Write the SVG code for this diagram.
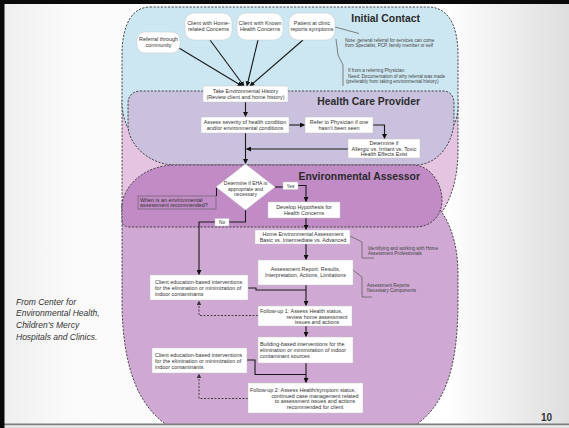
<svg xmlns="http://www.w3.org/2000/svg" width="569" height="428" viewBox="0 0 569 428">
<defs>
<linearGradient id="bg" x1="0" y1="0" x2="1" y2="0">
<stop offset="0" stop-color="#eeeeee"/>
<stop offset="0.12" stop-color="#fafafa"/>
<stop offset="0.78" stop-color="#ffffff"/>
<stop offset="1" stop-color="#dedede"/>
</linearGradient>
<marker id="ah" viewBox="0 0 10 10" refX="9" refY="5" markerWidth="5" markerHeight="5" markerUnits="userSpaceOnUse" orient="auto"><path d="M0,0 L10,5 L0,10 z" fill="#111"/></marker>
<marker id="ahd" viewBox="0 0 10 10" refX="9" refY="5" markerWidth="4.5" markerHeight="4.5" markerUnits="userSpaceOnUse" orient="auto"><path d="M0,0 L10,5 L0,10 z" fill="#333"/></marker>
<style>
.zone{stroke:#3a3a3a;stroke-width:0.9;stroke-dasharray:2.2 1.4}
.box{fill:#ffffff;stroke:#c4c4c4;stroke-width:0.5}
.t{font-family:"Liberation Sans",Arial,sans-serif;font-size:5.4px;fill:#333}
.m{text-anchor:middle}
.n{font-family:"Liberation Sans",Arial,sans-serif;font-size:4.6px;fill:#444}
.title{font-family:"Liberation Sans",Arial,sans-serif;font-weight:bold;font-size:10.4px;fill:#2b2b2b;text-anchor:end}
.c{fill:none;stroke:#1a1a1a;stroke-width:1.1}
.a{marker-end:url(#ah)}
.d{fill:none;stroke:#333;stroke-width:0.9;stroke-dasharray:2 1.5;marker-end:url(#ahd)}
.br{fill:none;stroke:#555;stroke-width:0.7}
</style>
</defs>

<rect x="0" y="0" width="569" height="428" fill="url(#bg)"/>

<g id="regions">
<path id="zone-pink" class="zone" fill="#e4c4e0" d="M122,100 H458 V150 C458,180 450,200 442,212 L122,212 Z"/>
<path id="zone-assessor-outer" class="zone" fill="#cfa8d3" d="M122,205 H436 C448,218 458,240 458,275 V300 C458,370 445,410 405,432 H180 C140,415 122,370 122,300 Z"/>
<path id="zone-initial-contact" class="zone" fill="#cce7f1" d="M150,7 H428 C448,7 458,25 458,55 V105 C458,115 456,122 452,128 H128 C124,120 122,112 122,100 V55 C122,25 132,7 150,7 Z"/>
<path id="zone-health-care" class="zone" fill="#c9c1dd" d="M140,91 H443 C450,91 454,96 454,103 V120 C454,140 440,165 415,165 H175 C150,165 128,145 128,125 V103 C128,96 133,91 140,91 Z"/>
<path id="zone-env-assessor" class="zone" fill="#c18cc6" d="M122,205 C124,185 145,165 175,165 H415 C432,167 442,185 442,200 C442,215 432,227 415,227 H130 Q122,227 122,220 Z"/>
<text class="title" x="420" y="22">Initial Contact</text>
<text class="title" x="420" y="104.5">Health Care Provider</text>
<text class="title" x="420" y="179.5">Environmental Assessor</text>
</g>

<g id="connectors">
<path class="c a" d="M179,48 L242,86"/>
<path class="c a" d="M210,40 L244,86"/>
<path class="c a" d="M258,40 L247,86"/>
<path class="c a" d="M303,40 L250,86"/>
<path class="c a" d="M245.5,102 V116.5"/>
<path class="c a" d="M287,125 H304.5"/>
<path class="c a" d="M373,125 H384.5 V138.5"/>
<path class="c a" d="M348,149 H246.5"/>
<path class="c a" d="M245.5,133 V163.5"/>
<path class="c" d="M275,187 H283"/>
<path class="c a" d="M298,185.5 H306 V201.5"/>
<path class="c" d="M245.5,210 V222 H229"/>
<path class="c a" d="M215,222 H199 V274.5"/>
<path class="c" d="M216.5,187 V196"/>
<path class="c a" d="M306,218 V229.5"/>
<path class="c a" d="M306,244 V259.5"/>
<path class="c a" d="M306,285 V305.5"/>
<path class="c" d="M248,288 H256 V290 H306"/>
<path class="c a" d="M306,326 V336.5"/>
<path class="c a" d="M306,363 V382.5"/>
<path class="c" d="M247,360 H255 V374.5 H306"/>
<path class="d" d="M258,315.5 H199 V301"/>
<path class="d" d="M248,398.5 H199 V374"/>
<path class="br" d="M335,27 L359,33.5"/>
<path class="br" d="M336,39 L338,55 L343,65 V86"/>
<path class="br" d="M350,236 L362,242 V258 H374"/>
<path class="br" d="M353,270 L362,277 V297 H372"/>
</g>

<g id="n-referral"><rect class="box" x="137" y="32" width="43" height="21" rx="8"/><text class="t m" x="158.5" y="41.4">Referral through</text><text class="t m" x="158.5" y="47.4">community</text></g>
<g id="n-home"><rect class="box" x="185" y="13" width="47" height="27" rx="9"/><text class="t m" x="208.5" y="25.4">Client with Home-</text><text class="t m" x="208.5" y="31.4">related Concerns</text></g>
<g id="n-known"><rect class="box" x="237" y="13" width="46" height="27" rx="9"/><text class="t m" x="260" y="25.4">Client with Known</text><text class="t m" x="260" y="31.4">Health Concerns</text></g>
<g id="n-patient"><rect class="box" x="289" y="13" width="46" height="27" rx="9"/><text class="t m" x="312" y="25.4">Patient at clinic</text><text class="t m" x="312" y="31.4">reports symptoms</text></g>

<g id="note-referral"><text class="n" x="345" y="41.5">Note: general referral for services can come</text><text class="n" x="345" y="47">from Specialist, PCP, family member or self</text></g>
<g id="note-physician"><text class="n" x="348" y="72">If from a referring Physician:</text><text class="n" x="348" y="77.5">  Need: Documentation of why referral was made</text><text class="n" x="346" y="83">(preferably from taking environmental history)</text></g>

<g id="n-history"><rect class="box" x="203" y="86" width="85" height="16"/><text class="t m" x="245.5" y="93.4">Take Environmental History</text><text class="t m" x="245.5" y="99.4">(Review client and home history)</text></g>
<g id="n-assess"><rect class="box" x="201" y="117" width="88" height="16"/><text class="t m" x="245" y="124.4">Assess severity of health condition</text><text class="t m" x="245" y="130.4">and/or environmental conditions</text></g>
<g id="n-refer"><rect class="box" x="305" y="117" width="68" height="16"/><text class="t m" x="339" y="124.4">Refer to Physician if one</text><text class="t m" x="339" y="130.4">hasn't been seen</text></g>
<g id="n-determine"><rect class="box" x="348" y="139" width="72" height="19"/><text class="t m" x="384" y="145.4">Determine if</text><text class="t m" x="384" y="150.9">Allergic vs. Irritant vs. Toxic</text><text class="t m" x="384" y="156.4">Health Effects Exist</text></g>

<g id="n-eha"><path d="M245.5,164 L275,187 L245.5,210 L216,187 Z" fill="#fff" stroke="#c4c4c4" stroke-width="0.5"/><text class="t m" x="245.5" y="185" style="font-size:5px">Determine if EHA is</text><text class="t m" x="245.5" y="190.5" style="font-size:5px">appropriate and</text><text class="t m" x="245.5" y="196" style="font-size:5px">necessary</text></g>
<g id="n-yes"><rect class="box" x="283" y="182" width="15" height="7.5"/><text class="t m" x="290.5" y="187.6" style="font-size:4.8px">Yes</text></g>
<g id="n-no"><rect class="box" x="215" y="218.5" width="14" height="7.5"/><text class="t m" x="222" y="224.1" style="font-size:4.8px">No</text></g>
<g id="n-when"><rect x="138" y="196" width="78" height="13" fill="none" stroke="#4a4a4a" stroke-width="0.5"/><text class="t" x="140" y="201.8">When is an environmental</text><text class="t" x="140" y="207.3">assessment recommended?</text></g>

<g id="n-hypothesis"><rect class="box" x="268" y="202" width="72" height="16"/><text class="t m" x="304" y="209">Develop Hypothesis for</text><text class="t m" x="304" y="215">Health Concerns</text></g>
<g id="n-home-assess"><rect class="box" x="255" y="230" width="95" height="14"/><text class="t m" x="303" y="236.4">Home Environmental Assessment</text><text class="t m" x="303" y="241.9">Basic vs. Intermediate vs. Advanced</text></g>
<g id="note-professionals"><text class="n" x="368" y="249.5">Identifying and working with Home</text><text class="n" x="368" y="255">Assessment Professionals</text></g>
<g id="n-report"><rect class="box" x="258" y="260" width="95" height="25"/><text class="t m" x="305.5" y="271.4">Assessment Report: Results,</text><text class="t m" x="305.5" y="277.4">Interpretation, Actions, Limitations</text></g>
<g id="note-components"><text class="n" x="367" y="286.5">Assessment Reports</text><text class="n" x="367" y="292">Necessary Components</text></g>
<g id="n-edu1"><rect class="box" x="150" y="275" width="98" height="25"/><text class="t" x="155" y="284.4">Client education-based interventions</text><text class="t" x="155" y="290.4">for the elimination or minimization of</text><text class="t" x="155" y="296.4">indoor contaminants</text></g>
<g id="n-follow1"><rect class="box" x="258" y="306" width="94" height="20"/><text class="t" x="260" y="313.4">Follow-up 1: Assess Health status,</text><text class="t m" x="317" y="318.9">review home assessment</text><text class="t m" x="317" y="324.4">issues and actions</text></g>
<g id="n-building"><rect class="box" x="258" y="337" width="95" height="26"/><text class="t" x="260" y="345.9">Building-based interventions for the</text><text class="t" x="260" y="351.9">elimination or minimization of indoor</text><text class="t" x="260" y="357.9">contaminant sources</text></g>
<g id="n-edu2"><rect class="box" x="152" y="348" width="95" height="25"/><text class="t" x="155" y="357.4">Client education-based interventions</text><text class="t" x="155" y="363.4">for the elimination or minimization of</text><text class="t" x="155" y="369.4">indoor contaminants</text></g>
<g id="n-follow2"><rect class="box" x="248" y="383" width="115" height="30"/><text class="t" x="250" y="391.9">Follow-up 2: Assess Health/symptom status,</text><text class="t m" x="315" y="397.6">continued case management related</text><text class="t m" x="315" y="403.3">to assessment issues and actions</text><text class="t m" x="315" y="409">recommended for client</text></g>

<g id="citation" font-family="'Liberation Sans', Arial, sans-serif" font-size="8.5" font-style="italic" fill="#333">
<text x="16" y="304.5">From Center for</text>
<text x="16" y="316">Environmental Health,</text>
<text x="16" y="327.8">Children’s Mercy</text>
<text x="16" y="339.5">Hospitals and Clinics.</text>
</g>

<rect x="0" y="424" width="569" height="4" fill="#e4e4e4"/>
<rect x="0" y="423.5" width="569" height="1.6" fill="#7a7a7a"/>
<rect x="0" y="0" width="569" height="4" fill="#0a0a0a"/>
<rect x="0" y="0" width="4.5" height="428" fill="#0a0a0a"/>
<text x="541" y="421" font-family="'Liberation Sans', Arial, sans-serif" font-size="10" font-weight="bold" fill="#333">10</text>
</svg>
